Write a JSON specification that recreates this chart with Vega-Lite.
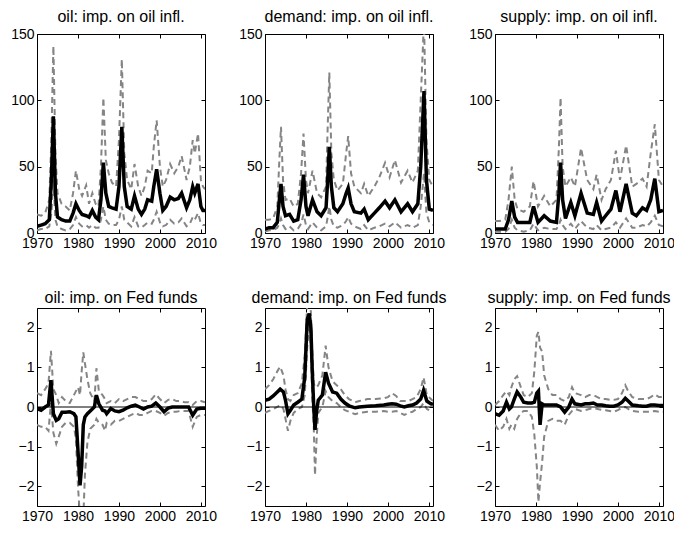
{
  "$schema": "https://vega.github.io/schema/vega-lite/v6.json",
  "background": "white",
  "padding": {"left": 10, "top": 8, "right": 2, "bottom": 2},
  "columns": 3,
  "spacing": {"row": 38, "column": 21},
  "config": {
    "view": {"stroke": "black", "strokeWidth": 1},
    "axis": {"labelFont": "Liberation Sans", "labelFontSize": 14, "labelColor": "black", "tickColor": "black", "tickSize": 4, "tickWidth": 1, "offset": -4, "labelPadding": 3, "grid": false, "domain": false, "labelFlush": false, "labelOverlap": false, "title": null},
    "title": {"font": "Liberation Sans", "fontSize": 16, "fontWeight": "normal", "color": "black", "offset": 2}
  },
  "datasets": {
    "A": [
      {"t":1970,"m":5,"lo":2,"hi":14},{"t":1971,"m":6,"lo":3,"hi":13},{"t":1972,"m":7,"lo":3,"hi":15},{"t":1973,"m":10,"lo":5,"hi":25},{"t":1973.5,"m":40,"lo":15,"hi":70},{"t":1974,"m":88,"lo":40,"hi":141},{"t":1974.5,"m":30,"lo":10,"hi":60},{"t":1975,"m":12,"lo":5,"hi":30},{"t":1976,"m":10,"lo":3,"hi":22},{"t":1977,"m":9,"lo":2,"hi":20},{"t":1978,"m":9,"lo":3,"hi":17},{"t":1978.8,"m":15,"lo":6,"hi":30},{"t":1979.5,"m":22,"lo":12,"hi":47},{"t":1980.3,"m":17,"lo":7,"hi":33},{"t":1981,"m":14,"lo":5,"hi":28},{"t":1982,"m":13,"lo":6,"hi":36},{"t":1982.7,"m":12,"lo":4,"hi":22},{"t":1983.5,"m":17,"lo":6,"hi":30},{"t":1984.3,"m":12,"lo":4,"hi":22},{"t":1985,"m":10,"lo":4,"hi":20},{"t":1985.6,"m":25,"lo":10,"hi":50},{"t":1986.2,"m":53,"lo":20,"hi":102},{"t":1986.8,"m":30,"lo":10,"hi":55},{"t":1987.5,"m":20,"lo":7,"hi":45},{"t":1988.3,"m":19,"lo":6,"hi":38},{"t":1989.3,"m":18,"lo":6,"hi":35},{"t":1990,"m":35,"lo":10,"hi":70},{"t":1990.7,"m":80,"lo":20,"hi":131},{"t":1991.3,"m":35,"lo":10,"hi":60},{"t":1992,"m":20,"lo":8,"hi":40},{"t":1993,"m":18,"lo":5,"hi":33},{"t":1993.8,"m":28,"lo":12,"hi":52},{"t":1994.7,"m":18,"lo":5,"hi":35},{"t":1995.5,"m":14,"lo":4,"hi":28},{"t":1996.3,"m":18,"lo":6,"hi":35},{"t":1997,"m":25,"lo":8,"hi":47},{"t":1998,"m":24,"lo":7,"hi":45},{"t":1998.5,"m":35,"lo":10,"hi":65},{"t":1999.2,"m":48,"lo":16,"hi":85},{"t":2000,"m":30,"lo":8,"hi":50},{"t":2000.7,"m":17,"lo":5,"hi":35},{"t":2001.5,"m":20,"lo":6,"hi":40},{"t":2002.5,"m":27,"lo":10,"hi":52},{"t":2003.5,"m":25,"lo":7,"hi":45},{"t":2004.5,"m":26,"lo":8,"hi":50},{"t":2005.3,"m":30,"lo":11,"hi":58},{"t":2006.5,"m":19,"lo":5,"hi":40},{"t":2007.3,"m":25,"lo":7,"hi":50},{"t":2008,"m":35,"lo":12,"hi":70},{"t":2008.5,"m":30,"lo":10,"hi":60},{"t":2009.3,"m":37,"lo":15,"hi":75},{"t":2010,"m":20,"lo":7,"hi":40},{"t":2010.5,"m":17,"lo":6,"hi":35},{"t":2011,"m":17,"lo":6,"hi":33}
    ],
    "B": [
      {"t":1970,"m":3,"lo":1,"hi":10},{"t":1971,"m":4,"lo":2,"hi":10},{"t":1972,"m":4,"lo":2,"hi":11},{"t":1973,"m":8,"lo":4,"hi":20},{"t":1973.5,"m":25,"lo":7,"hi":55},{"t":1973.9,"m":37,"lo":11,"hi":80},{"t":1974.4,"m":20,"lo":6,"hi":40},{"t":1975,"m":13,"lo":3,"hi":25},{"t":1976,"m":14,"lo":5,"hi":26},{"t":1977,"m":9,"lo":2,"hi":20},{"t":1978,"m":10,"lo":3,"hi":22},{"t":1978.8,"m":25,"lo":7,"hi":45},{"t":1979.4,"m":44,"lo":14,"hi":75},{"t":1980,"m":20,"lo":6,"hi":40},{"t":1980.5,"m":13,"lo":3,"hi":30},{"t":1981.6,"m":25,"lo":8,"hi":47},{"t":1982.7,"m":16,"lo":4,"hi":30},{"t":1983.7,"m":13,"lo":2,"hi":27},{"t":1984.9,"m":19,"lo":5,"hi":35},{"t":1985.3,"m":40,"lo":12,"hi":80},{"t":1985.7,"m":65,"lo":20,"hi":121},{"t":1986.2,"m":35,"lo":10,"hi":60},{"t":1986.8,"m":19,"lo":5,"hi":40},{"t":1987.7,"m":16,"lo":4,"hi":32},{"t":1989,"m":22,"lo":6,"hi":37},{"t":1989.8,"m":30,"lo":9,"hi":60},{"t":1990.3,"m":34,"lo":12,"hi":73},{"t":1991,"m":22,"lo":7,"hi":45},{"t":1991.8,"m":16,"lo":5,"hi":35},{"t":1993.4,"m":15,"lo":3,"hi":30},{"t":1994.2,"m":18,"lo":6,"hi":37},{"t":1995.2,"m":10,"lo":2,"hi":28},{"t":1996.7,"m":15,"lo":4,"hi":35},{"t":1997.9,"m":19,"lo":5,"hi":42},{"t":1999.3,"m":24,"lo":7,"hi":53},{"t":2000.4,"m":19,"lo":5,"hi":42},{"t":2001.7,"m":25,"lo":8,"hi":55},{"t":2003.2,"m":16,"lo":4,"hi":38},{"t":2004.8,"m":22,"lo":6,"hi":47},{"t":2006,"m":16,"lo":4,"hi":38},{"t":2007.3,"m":22,"lo":6,"hi":47},{"t":2008,"m":50,"lo":20,"hi":100},{"t":2008.8,"m":107,"lo":45,"hi":160},{"t":2009.4,"m":40,"lo":15,"hi":70},{"t":2010.1,"m":18,"lo":8,"hi":40},{"t":2011,"m":17,"lo":6,"hi":35}
    ],
    "C": [
      {"t":1970,"m":3,"lo":1,"hi":9},{"t":1971,"m":3,"lo":1,"hi":9},{"t":1972.5,"m":3,"lo":1,"hi":10},{"t":1973.3,"m":10,"lo":3,"hi":25},{"t":1974.1,"m":24,"lo":10,"hi":50},{"t":1974.8,"m":12,"lo":4,"hi":25},{"t":1975.5,"m":8,"lo":2,"hi":18},{"t":1977,"m":8,"lo":1,"hi":16},{"t":1978.5,"m":8,"lo":2,"hi":20},{"t":1979.4,"m":20,"lo":7,"hi":39},{"t":1980.5,"m":8,"lo":2,"hi":20},{"t":1982,"m":13,"lo":4,"hi":28},{"t":1983.5,"m":9,"lo":3,"hi":20},{"t":1985,"m":8,"lo":3,"hi":25},{"t":1985.6,"m":30,"lo":6,"hi":65},{"t":1986,"m":53,"lo":10,"hi":102},{"t":1986.5,"m":25,"lo":6,"hi":50},{"t":1987.2,"m":11,"lo":3,"hi":35},{"t":1988.5,"m":23,"lo":7,"hi":42},{"t":1989.5,"m":13,"lo":3,"hi":35},{"t":1991,"m":30,"lo":9,"hi":64},{"t":1992.5,"m":15,"lo":4,"hi":40},{"t":1994,"m":14,"lo":3,"hi":33},{"t":1994.8,"m":23,"lo":6,"hi":44},{"t":1996,"m":9,"lo":2,"hi":25},{"t":1997,"m":13,"lo":3,"hi":33},{"t":1998.3,"m":18,"lo":4,"hi":40},{"t":1999.5,"m":32,"lo":8,"hi":62},{"t":2000.5,"m":16,"lo":4,"hi":40},{"t":2002,"m":37,"lo":11,"hi":66},{"t":2003.5,"m":15,"lo":4,"hi":35},{"t":2004.5,"m":13,"lo":4,"hi":37},{"t":2006,"m":19,"lo":6,"hi":41},{"t":2007,"m":17,"lo":5,"hi":35},{"t":2008,"m":25,"lo":8,"hi":60},{"t":2009,"m":41,"lo":13,"hi":82},{"t":2010,"m":16,"lo":6,"hi":40},{"t":2011,"m":17,"lo":5,"hi":35}
    ],
    "D": [
      {"t":1970,"m":-0.04,"lo":-0.45,"hi":0.35},{"t":1971,"m":-0.08,"lo":-0.5,"hi":0.3},{"t":1972,"m":0,"lo":-0.5,"hi":0.45},{"t":1972.8,"m":0.05,"lo":-0.6,"hi":0.6},{"t":1973.4,"m":0.68,"lo":0.1,"hi":1.42},{"t":1974,"m":-0.17,"lo":-0.65,"hi":0.45},{"t":1974.7,"m":-0.34,"lo":-0.93,"hi":0.3},{"t":1975.3,"m":-0.3,"lo":-0.75,"hi":0.1},{"t":1976.1,"m":-0.13,"lo":-0.5,"hi":0.25},{"t":1977,"m":-0.13,"lo":-0.4,"hi":0.15},{"t":1978,"m":-0.12,"lo":-0.4,"hi":0.1},{"t":1979,"m":-0.17,"lo":-0.5,"hi":0.3},{"t":1979.5,"m":-0.25,"lo":-0.8,"hi":0.4},{"t":1980,"m":-1.1,"lo":-2.0,"hi":0.5},{"t":1980.5,"m":-1.98,"lo":-2.8,"hi":0.3},{"t":1980.9,"m":-1.5,"lo":-2.8,"hi":0.9},{"t":1981.3,"m":-0.45,"lo":-2.8,"hi":1.38},{"t":1981.7,"m":-0.25,"lo":-1.7,"hi":1.1},{"t":1982.3,"m":-0.17,"lo":-0.9,"hi":0.7},{"t":1983,"m":-0.1,"lo":-0.55,"hi":0.35},{"t":1984,"m":0,"lo":-0.45,"hi":0.15},{"t":1984.5,"m":0.3,"lo":-0.3,"hi":0.98},{"t":1985.1,"m":0.08,"lo":-0.4,"hi":0.4},{"t":1986,"m":-0.08,"lo":-0.45,"hi":0.3},{"t":1986.6,"m":-0.1,"lo":-0.6,"hi":0.2},{"t":1987,"m":-0.17,"lo":-0.4,"hi":0.1},{"t":1988,"m":-0.04,"lo":-0.45,"hi":0.15},{"t":1989,"m":-0.1,"lo":-0.35,"hi":0.1},{"t":1990,"m":-0.12,"lo":-0.35,"hi":0.2},{"t":1991,"m":-0.08,"lo":-0.3,"hi":0.15},{"t":1992,"m":-0.02,"lo":-0.25,"hi":0.2},{"t":1993,"m":0.02,"lo":-0.2,"hi":0.25},{"t":1994,"m":0.05,"lo":-0.15,"hi":0.25},{"t":1995,"m":0,"lo":-0.2,"hi":0.2},{"t":1996,"m":-0.05,"lo":-0.2,"hi":0.15},{"t":1997,"m":0,"lo":-0.15,"hi":0.15},{"t":1998,"m":0.02,"lo":-0.1,"hi":0.2},{"t":1999,"m":0.1,"lo":-0.1,"hi":0.32},{"t":2000,"m":0,"lo":-0.15,"hi":0.2},{"t":2001,"m":-0.12,"lo":-0.22,"hi":0.1},{"t":2002,"m":-0.03,"lo":-0.15,"hi":0.18},{"t":2003,"m":0,"lo":-0.12,"hi":0.2},{"t":2004,"m":0,"lo":-0.12,"hi":0.15},{"t":2005,"m":0,"lo":-0.1,"hi":0.15},{"t":2006,"m":0,"lo":-0.1,"hi":0.12},{"t":2007,"m":0,"lo":-0.1,"hi":0.12},{"t":2008,"m":-0.21,"lo":-0.5,"hi":0.05},{"t":2009,"m":-0.05,"lo":-0.25,"hi":0.15},{"t":2010,"m":-0.03,"lo":-0.2,"hi":0.15},{"t":2011,"m":-0.03,"lo":-0.2,"hi":0.12}
    ],
    "E": [
      {"t":1970,"m":0.17,"lo":-0.15,"hi":0.45},{"t":1971,"m":0.2,"lo":-0.1,"hi":0.55},{"t":1972,"m":0.28,"lo":-0.05,"hi":0.7},{"t":1973,"m":0.38,"lo":0,"hi":0.9},{"t":1973.7,"m":0.45,"lo":0.05,"hi":1.02},{"t":1974.5,"m":0.38,"lo":-0.05,"hi":0.8},{"t":1975,"m":0.17,"lo":-0.3,"hi":0.45},{"t":1975.6,"m":-0.17,"lo":-0.6,"hi":0.2},{"t":1976.2,"m":-0.08,"lo":-0.35,"hi":0.15},{"t":1977,"m":0.05,"lo":-0.15,"hi":0.3},{"t":1978,"m":0.12,"lo":-0.05,"hi":0.35},{"t":1979,"m":0.2,"lo":0,"hi":0.6},{"t":1979.7,"m":0.75,"lo":0.3,"hi":1.3},{"t":1980.3,"m":2.2,"lo":1.5,"hi":2.6},{"t":1980.8,"m":2.36,"lo":2.1,"hi":2.7},{"t":1981.2,"m":2.0,"lo":1.5,"hi":2.4},{"t":1981.5,"m":1.0,"lo":0.3,"hi":1.5},{"t":1981.9,"m":0,"lo":-0.5,"hi":0.6},{"t":1982.2,"m":-0.58,"lo":-1.72,"hi":0.5},{"t":1982.6,"m":-0.1,"lo":-0.8,"hi":0.5},{"t":1983,"m":0.17,"lo":-0.15,"hi":0.55},{"t":1984,"m":0.3,"lo":0,"hi":0.8},{"t":1984.8,"m":0.88,"lo":0.4,"hi":1.55},{"t":1985.5,"m":0.6,"lo":0.25,"hi":1.0},{"t":1986.5,"m":0.38,"lo":0.15,"hi":0.65},{"t":1987.5,"m":0.35,"lo":0.1,"hi":0.55},{"t":1988.5,"m":0.2,"lo":0,"hi":0.45},{"t":1989.5,"m":0.1,"lo":-0.08,"hi":0.3},{"t":1990.5,"m":0.03,"lo":-0.12,"hi":0.2},{"t":1992,"m":-0.02,"lo":-0.18,"hi":0.12},{"t":1993,"m":0,"lo":-0.15,"hi":0.15},{"t":1995,"m":0.02,"lo":-0.12,"hi":0.2},{"t":1997,"m":0.03,"lo":-0.12,"hi":0.2},{"t":1999,"m":0.05,"lo":-0.1,"hi":0.22},{"t":2000,"m":0.07,"lo":-0.12,"hi":0.25},{"t":2001,"m":0.08,"lo":-0.12,"hi":0.35},{"t":2002,"m":0.07,"lo":-0.1,"hi":0.28},{"t":2003,"m":0.03,"lo":-0.15,"hi":0.15},{"t":2004,"m":0,"lo":-0.2,"hi":0.15},{"t":2005,"m":0.03,"lo":-0.15,"hi":0.15},{"t":2006,"m":0.05,"lo":-0.12,"hi":0.2},{"t":2007,"m":0.1,"lo":-0.05,"hi":0.25},{"t":2008,"m":0.2,"lo":0,"hi":0.45},{"t":2008.7,"m":0.42,"lo":0.1,"hi":0.75},{"t":2009.5,"m":0.15,"lo":-0.05,"hi":0.3},{"t":2010.5,"m":0.08,"lo":-0.1,"hi":0.2},{"t":2011,"m":0.07,"lo":-0.12,"hi":0.15}
    ],
    "F": [
      {"t":1970,"m":-0.17,"lo":-0.45,"hi":0.05},{"t":1971,"m":-0.21,"lo":-0.6,"hi":0.15},{"t":1972,"m":-0.1,"lo":-0.5,"hi":0.3},{"t":1972.8,"m":0.12,"lo":-0.3,"hi":0.4},{"t":1973.5,"m":-0.05,"lo":-0.55,"hi":0.3},{"t":1974,"m":0,"lo":-0.45,"hi":0.5},{"t":1974.7,"m":0.2,"lo":-0.55,"hi":0.7},{"t":1975.4,"m":0.38,"lo":-0.3,"hi":0.78},{"t":1976.3,"m":0.25,"lo":-0.15,"hi":0.5},{"t":1977,"m":0.12,"lo":-0.1,"hi":0.3},{"t":1978,"m":0.1,"lo":-0.1,"hi":0.25},{"t":1979,"m":0.1,"lo":-0.25,"hi":0.35},{"t":1979.6,"m":0.12,"lo":-0.7,"hi":0.9},{"t":1980.2,"m":0.35,"lo":-1.5,"hi":1.8},{"t":1980.6,"m":0.4,"lo":-2.4,"hi":1.9},{"t":1981,"m":-0.45,"lo":-1.9,"hi":1.5},{"t":1981.5,"m":0.08,"lo":-1.4,"hi":1.4},{"t":1982,"m":0.05,"lo":-0.75,"hi":0.8},{"t":1983,"m":0.05,"lo":-0.35,"hi":0.45},{"t":1984,"m":0.05,"lo":-0.3,"hi":0.3},{"t":1985,"m":0.05,"lo":-0.35,"hi":0.3},{"t":1986,"m":0,"lo":-0.35,"hi":0.2},{"t":1987,"m":-0.13,"lo":-0.45,"hi":0.15},{"t":1988,"m":0,"lo":-0.2,"hi":0.25},{"t":1988.8,"m":0.2,"lo":-0.1,"hi":0.5},{"t":1989.5,"m":0.08,"lo":-0.05,"hi":0.35},{"t":1991,"m":0.05,"lo":-0.1,"hi":0.3},{"t":1992,"m":0.08,"lo":-0.08,"hi":0.25},{"t":1993,"m":0.08,"lo":-0.05,"hi":0.3},{"t":1994,"m":0.1,"lo":-0.03,"hi":0.3},{"t":1995,"m":0.05,"lo":-0.05,"hi":0.25},{"t":1996,"m":0.05,"lo":-0.07,"hi":0.2},{"t":1997,"m":0.03,"lo":-0.08,"hi":0.2},{"t":1998,"m":0.02,"lo":-0.1,"hi":0.18},{"t":1999,"m":0.02,"lo":-0.12,"hi":0.18},{"t":2000,"m":0.05,"lo":-0.08,"hi":0.2},{"t":2001,"m":0.12,"lo":-0.02,"hi":0.35},{"t":2001.8,"m":0.22,"lo":0,"hi":0.55},{"t":2002.5,"m":0.15,"lo":-0.05,"hi":0.4},{"t":2003.5,"m":0.05,"lo":-0.1,"hi":0.25},{"t":2005,"m":0.03,"lo":-0.12,"hi":0.2},{"t":2006,"m":0.02,"lo":-0.12,"hi":0.2},{"t":2007,"m":0.02,"lo":-0.12,"hi":0.2},{"t":2008,"m":0.05,"lo":-0.12,"hi":0.25},{"t":2009,"m":0.05,"lo":-0.1,"hi":0.32},{"t":2010,"m":0.04,"lo":-0.12,"hi":0.25},{"t":2011,"m":0.04,"lo":-0.12,"hi":0.25}
    ]
  },
  "concat": [
    {"data": {"name": "A"}, "title": "oil: imp. on oil infl.", "width": 168, "height": 199,
     "layer": [
      {"mark": {"type": "line", "color": "#858585", "strokeDash": [6, 4], "strokeWidth": 2, "clip": true},
       "encoding": {"x": {"field": "t", "type": "quantitative", "scale": {"domain": [1970, 2011], "nice": false, "zero": false}, "axis": {"orient": "top", "labels": false, "values": [1970, 1980, 1990, 2000, 2010]}},
                    "y": {"field": "hi", "type": "quantitative", "scale": {"domain": [0, 150], "nice": false}, "axis": {"orient": "right", "labels": false, "values": [0, 50, 100, 150]}}}},
      {"mark": {"type": "line", "color": "#858585", "strokeDash": [6, 4], "strokeWidth": 2, "clip": true},
       "encoding": {"x": {"field": "t", "type": "quantitative", "axis": null}, "y": {"field": "lo", "type": "quantitative", "axis": null}}},
      {"mark": {"type": "line", "color": "black", "strokeWidth": 3.5, "clip": true},
       "encoding": {"x": {"field": "t", "type": "quantitative", "axis": {"orient": "bottom", "values": [1970, 1980, 1990, 2000, 2010], "format": "d"}},
                    "y": {"field": "m", "type": "quantitative", "axis": {"orient": "left", "values": [0, 50, 100, 150]}}}}
     ],
     "resolve": {"axis": {"x": "independent", "y": "independent"}}},
    {"data": {"name": "B"}, "title": "demand: imp. on oil infl.", "width": 168, "height": 199,
     "layer": [
      {"mark": {"type": "line", "color": "#858585", "strokeDash": [6, 4], "strokeWidth": 2, "clip": true},
       "encoding": {"x": {"field": "t", "type": "quantitative", "scale": {"domain": [1970, 2011], "nice": false, "zero": false}, "axis": {"orient": "top", "labels": false, "values": [1970, 1980, 1990, 2000, 2010]}},
                    "y": {"field": "hi", "type": "quantitative", "scale": {"domain": [0, 150], "nice": false}, "axis": {"orient": "right", "labels": false, "values": [0, 50, 100, 150]}}}},
      {"mark": {"type": "line", "color": "#858585", "strokeDash": [6, 4], "strokeWidth": 2, "clip": true},
       "encoding": {"x": {"field": "t", "type": "quantitative", "axis": null}, "y": {"field": "lo", "type": "quantitative", "axis": null}}},
      {"mark": {"type": "line", "color": "black", "strokeWidth": 3.5, "clip": true},
       "encoding": {"x": {"field": "t", "type": "quantitative", "axis": {"orient": "bottom", "values": [1970, 1980, 1990, 2000, 2010], "format": "d"}},
                    "y": {"field": "m", "type": "quantitative", "axis": {"orient": "left", "values": [0, 50, 100, 150]}}}}
     ],
     "resolve": {"axis": {"x": "independent", "y": "independent"}}},
    {"data": {"name": "C"}, "title": "supply: imp. on oil infl.", "width": 168, "height": 199,
     "layer": [
      {"mark": {"type": "line", "color": "#858585", "strokeDash": [6, 4], "strokeWidth": 2, "clip": true},
       "encoding": {"x": {"field": "t", "type": "quantitative", "scale": {"domain": [1970, 2011], "nice": false, "zero": false}, "axis": {"orient": "top", "labels": false, "values": [1970, 1980, 1990, 2000, 2010]}},
                    "y": {"field": "hi", "type": "quantitative", "scale": {"domain": [0, 150], "nice": false}, "axis": {"orient": "right", "labels": false, "values": [0, 50, 100, 150]}}}},
      {"mark": {"type": "line", "color": "#858585", "strokeDash": [6, 4], "strokeWidth": 2, "clip": true},
       "encoding": {"x": {"field": "t", "type": "quantitative", "axis": null}, "y": {"field": "lo", "type": "quantitative", "axis": null}}},
      {"mark": {"type": "line", "color": "black", "strokeWidth": 3.5, "clip": true},
       "encoding": {"x": {"field": "t", "type": "quantitative", "axis": {"orient": "bottom", "values": [1970, 1980, 1990, 2000, 2010], "format": "d"}},
                    "y": {"field": "m", "type": "quantitative", "axis": {"orient": "left", "values": [0, 50, 100, 150]}}}}
     ],
     "resolve": {"axis": {"x": "independent", "y": "independent"}}},
    {"data": {"name": "D"}, "title": "oil: imp. on Fed funds", "width": 168, "height": 198,
     "layer": [
      {"mark": {"type": "line", "color": "#858585", "strokeDash": [6, 4], "strokeWidth": 2, "clip": true},
       "encoding": {"x": {"field": "t", "type": "quantitative", "scale": {"domain": [1970, 2011], "nice": false, "zero": false}, "axis": {"orient": "top", "labels": false, "values": [1970, 1980, 1990, 2000, 2010]}},
                    "y": {"field": "hi", "type": "quantitative", "scale": {"domain": [-2.5, 2.5], "nice": false, "zero": false}, "axis": {"orient": "right", "labels": false, "values": [-2, -1, 0, 1, 2]}}}},
      {"mark": {"type": "line", "color": "#858585", "strokeDash": [6, 4], "strokeWidth": 2, "clip": true},
       "encoding": {"x": {"field": "t", "type": "quantitative", "axis": null}, "y": {"field": "lo", "type": "quantitative", "axis": null}}},
      {"data": {"values": [{}]}, "mark": {"type": "rule", "color": "black", "strokeWidth": 1},
       "encoding": {"y": {"datum": 0, "type": "quantitative", "axis": null}}},
      {"mark": {"type": "line", "color": "black", "strokeWidth": 3.5, "clip": true},
       "encoding": {"x": {"field": "t", "type": "quantitative", "axis": {"orient": "bottom", "values": [1970, 1980, 1990, 2000, 2010], "format": "d"}},
                    "y": {"field": "m", "type": "quantitative", "axis": {"orient": "left", "values": [-2, -1, 0, 1, 2]}}}}
     ],
     "resolve": {"axis": {"x": "independent", "y": "independent"}}},
    {"data": {"name": "E"}, "title": "demand: imp. on Fed funds", "width": 168, "height": 198,
     "layer": [
      {"mark": {"type": "line", "color": "#858585", "strokeDash": [6, 4], "strokeWidth": 2, "clip": true},
       "encoding": {"x": {"field": "t", "type": "quantitative", "scale": {"domain": [1970, 2011], "nice": false, "zero": false}, "axis": {"orient": "top", "labels": false, "values": [1970, 1980, 1990, 2000, 2010]}},
                    "y": {"field": "hi", "type": "quantitative", "scale": {"domain": [-2.5, 2.5], "nice": false, "zero": false}, "axis": {"orient": "right", "labels": false, "values": [-2, -1, 0, 1, 2]}}}},
      {"mark": {"type": "line", "color": "#858585", "strokeDash": [6, 4], "strokeWidth": 2, "clip": true},
       "encoding": {"x": {"field": "t", "type": "quantitative", "axis": null}, "y": {"field": "lo", "type": "quantitative", "axis": null}}},
      {"data": {"values": [{}]}, "mark": {"type": "rule", "color": "black", "strokeWidth": 1},
       "encoding": {"y": {"datum": 0, "type": "quantitative", "axis": null}}},
      {"mark": {"type": "line", "color": "black", "strokeWidth": 3.5, "clip": true},
       "encoding": {"x": {"field": "t", "type": "quantitative", "axis": {"orient": "bottom", "values": [1970, 1980, 1990, 2000, 2010], "format": "d"}},
                    "y": {"field": "m", "type": "quantitative", "axis": {"orient": "left", "values": [-2, -1, 0, 1, 2]}}}}
     ],
     "resolve": {"axis": {"x": "independent", "y": "independent"}}},
    {"data": {"name": "F"}, "title": "supply: imp. on Fed funds", "width": 168, "height": 198,
     "layer": [
      {"mark": {"type": "line", "color": "#858585", "strokeDash": [6, 4], "strokeWidth": 2, "clip": true},
       "encoding": {"x": {"field": "t", "type": "quantitative", "scale": {"domain": [1970, 2011], "nice": false, "zero": false}, "axis": {"orient": "top", "labels": false, "values": [1970, 1980, 1990, 2000, 2010]}},
                    "y": {"field": "hi", "type": "quantitative", "scale": {"domain": [-2.5, 2.5], "nice": false, "zero": false}, "axis": {"orient": "right", "labels": false, "values": [-2, -1, 0, 1, 2]}}}},
      {"mark": {"type": "line", "color": "#858585", "strokeDash": [6, 4], "strokeWidth": 2, "clip": true},
       "encoding": {"x": {"field": "t", "type": "quantitative", "axis": null}, "y": {"field": "lo", "type": "quantitative", "axis": null}}},
      {"data": {"values": [{}]}, "mark": {"type": "rule", "color": "black", "strokeWidth": 1},
       "encoding": {"y": {"datum": 0, "type": "quantitative", "axis": null}}},
      {"mark": {"type": "line", "color": "black", "strokeWidth": 3.5, "clip": true},
       "encoding": {"x": {"field": "t", "type": "quantitative", "axis": {"orient": "bottom", "values": [1970, 1980, 1990, 2000, 2010], "format": "d"}},
                    "y": {"field": "m", "type": "quantitative", "axis": {"orient": "left", "values": [-2, -1, 0, 1, 2]}}}}
     ],
     "resolve": {"axis": {"x": "independent", "y": "independent"}}}
  ]
}
